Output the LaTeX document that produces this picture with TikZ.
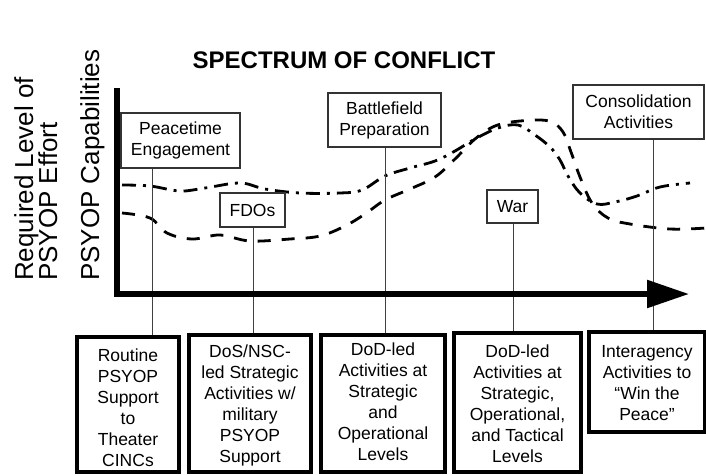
\documentclass[tikz,border=0pt]{standalone}
\usepackage{fontspec}
\setmainfont{Liberation Sans}
\usetikzlibrary{arrows.meta}
\begin{document}
\begin{tikzpicture}[x=1pt,y=-1pt,
  tbox/.style={draw=black!80, fill=white, line width=1.1pt, rectangle, inner sep=0pt, align=center, font=\fontsize{17.5}{21}\selectfont},
  bbox/.style={draw=black, line width=3.5pt, rectangle, inner sep=0pt},
  btext/.style={align=center, inner sep=0pt, anchor=north, font=\fontsize{17.5}{21}\selectfont},
  vline/.style={draw=black!75, line width=0.9pt},
  dashcurve/.style={line width=2.8pt, dash pattern=on 13pt off 11pt},
  dotcurve/.style={line width=2.8pt, dash pattern=on 14pt off 7pt on 3pt off 7pt},
  ylab/.style={rotate=90, anchor=base west, inner sep=0pt, font=\fontsize{26}{30}\selectfont},
  axisline/.style={line width=5.5pt, line join=miter}
]
\useasboundingbox (0,0) rectangle (706,475);
\fill[white] (0,0) rectangle (706,475);

% coordinates of the vertical guide lines
\coordinate (c1) at (152,0);
\coordinate (c2) at (253,0);
\coordinate (c3) at (385,0);
\coordinate (c4) at (513,0);
\coordinate (c5) at (653,0);

% curves
\draw[dotcurve] plot[smooth, tension=0.6] coordinates {
 (122,185) (150,186) (180,191) (205,188) (240,183) (265,189) (300,193)
 (340,193) (362,190) (385,176) (410,168) (435,161) (455,151) (475,139)
 (498,128) (518,125) (535,135) (550,147) (560,160) (568,176) (580,193)
 (597,204) (615,202) (637,196) (660,187) (690,183)};
\draw[dashcurve] plot[smooth, tension=0.6] coordinates {
 (122,213) (150,218) (167,233) (192,239) (220,235) (250,241) (290,239)
 (320,236) (345,226) (365,214) (385,200) (410,189) (435,177) (455,159)
 (475,139) (495,126) (520,121) (549,121) (563,132) (571,152) (580,177)
 (592,203) (608,218) (630,224) (670,229) (706,228)};

% top boxes
\node[tbox, minimum width=119pt, minimum height=55pt] (peace) at (180.5,140.5) {Peacetime\\Engagement};
\node[tbox, minimum width=65pt, minimum height=34pt] (fdo) at (252.5,210) {FDOs};
\node[tbox, minimum width=113pt, minimum height=54pt] (battle) at (384.5,120) {Battlefield\\Preparation};
\node[tbox, minimum width=51pt, minimum height=33pt] (war) at (512.5,206.5) {War};
\node[tbox, minimum width=131pt, minimum height=54pt] (consol) at (638.5,112) {Consolidation\\Activities};

% bottom boxes
\node[bbox, minimum width=102pt, minimum height=135pt] (b1) at (128,404.5) {};
\node[bbox, minimum width=122pt, minimum height=137pt] (b2) at (250,403.5) {};
\node[bbox, minimum width=124pt, minimum height=137pt] (b3) at (383,403.5) {};
\node[bbox, minimum width=127pt, minimum height=139pt] (b4) at (517.5,402.5) {};
\node[bbox, minimum width=116pt, minimum height=100pt] (b5) at (647,382) {};

\node[btext] (t1) at (128,349) {Routine\\PSYOP\\Support\\to\\Theater\\CINCs};
\node[btext] (t2) at (250,345) {DoS/NSC-\\led Strategic\\Activities w/\\military\\PSYOP\\Support};
\node[btext] (t3) at (383,343) {DoD-led\\Activities at\\Strategic\\and\\Operational\\Levels};
\node[btext] (t4) at (517.5,345) {DoD-led\\Activities at\\Strategic,\\Operational,\\and Tactical\\Levels};
\node[btext] (t5) at (647,345) {Interagency\\Activities to\\“Win the\\Peace”};

% vertical guide lines
\draw[vline] (peace.south -| c1) -- (b1.north -| c1);
\draw[vline] (fdo.south -| c2) -- (b2.north -| c2);
\draw[vline] (battle.south -| c3) -- (b3.north -| c3);
\draw[vline] (war.south -| c4) -- (b4.north -| c4);
\draw[vline] (consol.south -| c5) -- (b5.north -| c5);

% axes
\coordinate (ytop) at (117,88);
\coordinate (orig) at (117,294);
\coordinate (xend) at (689,294);
\draw[axisline, -{Triangle[length=42pt, width=27pt]}] (ytop) -- (orig) -- (xend);

% title
\node[font=\fontsize{24}{28}\selectfont\bfseries, anchor=base, inner sep=0pt] (title) at (344,68) {SPECTRUM OF CONFLICT};

% y axis labels
\node[ylab] (yl1) at (33,281) {Required Level of};
\node[ylab] (yl2) at (57,281) {PSYOP Effort};
\node[ylab] (yl3) at (99,281) {PSYOP Capabilities};
\end{tikzpicture}
\end{document}
